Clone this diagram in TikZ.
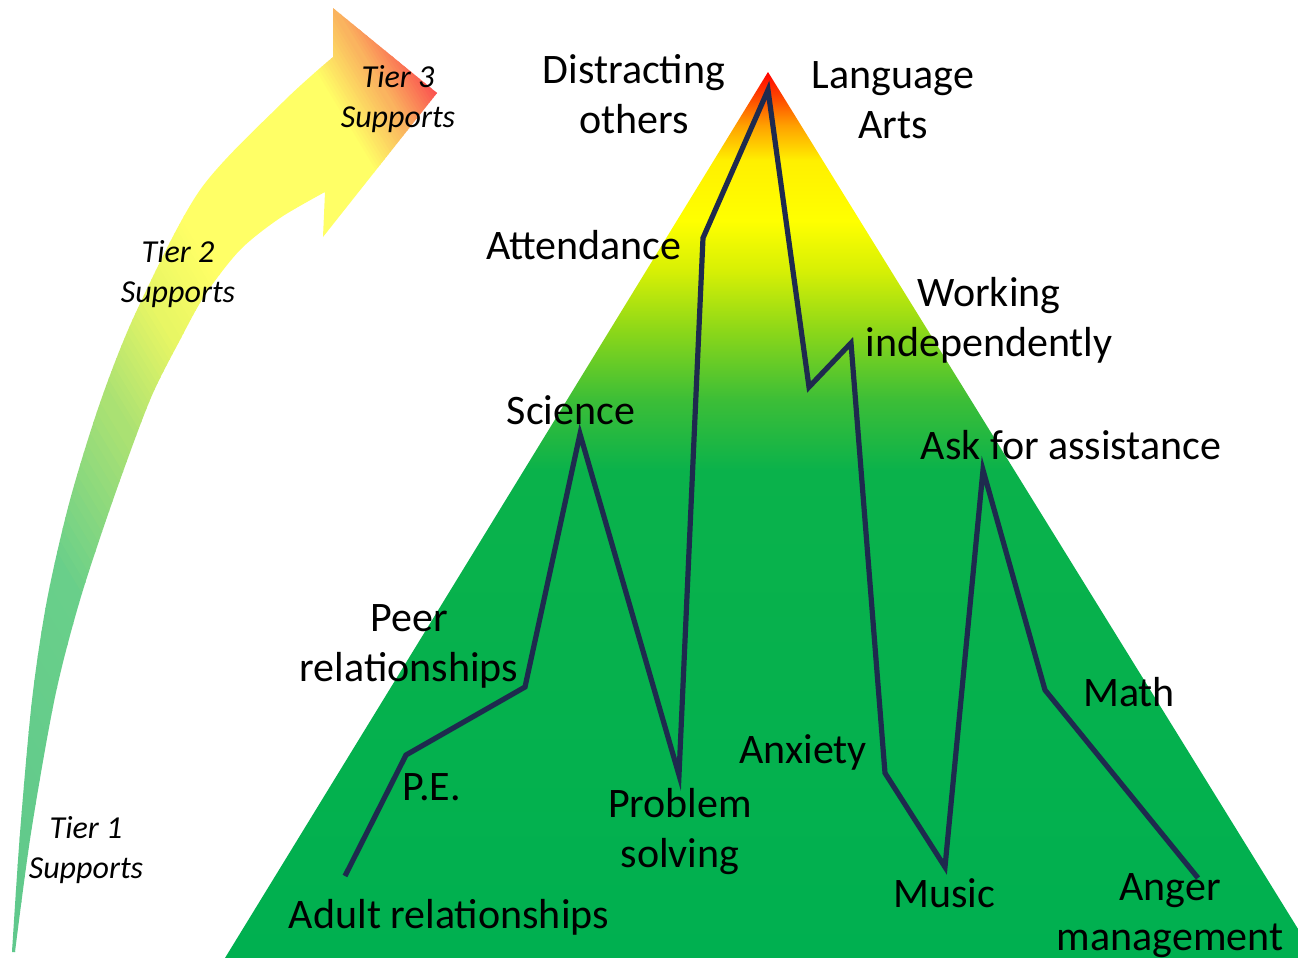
\documentclass[tikz,border=0pt]{standalone}
\usepackage{fontspec}
\setmainfont{Carlito}
\definecolor{pg0}{RGB}{0,176,80}
\definecolor{pg1}{RGB}{10,178,75}
\definecolor{pg2}{RGB}{60,190,55}
\definecolor{pg3}{RGB}{140,215,25}
\definecolor{pg4}{RGB}{215,240,5}
\definecolor{py}{RGB}{255,255,0}
\definecolor{py2}{RGB}{255,240,0}
\definecolor{po}{RGB}{255,160,0}
\definecolor{por}{RGB}{255,80,0}
\definecolor{pr}{RGB}{255,0,0}
\definecolor{ag0}{RGB}{95,200,140}
\definecolor{ag1}{RGB}{105,207,138}
\definecolor{ag2}{RGB}{170,225,115}
\definecolor{ag3}{RGB}{232,246,100}
\definecolor{ay}{RGB}{255,255,102}
\definecolor{ao}{RGB}{250,180,95}
\definecolor{ar}{RGB}{250,85,80}
\definecolor{navy}{RGB}{30,42,78}
\pgfdeclareverticalshading{pyrshade}{100bp}{color(0bp)=(pg0); color(25bp)=(pg0); color(52.5bp)=(pg1); color(56.5bp)=(pg2); color(60.4bp)=(pg3); color(63.8bp)=(pg4); color(66.6bp)=(py); color(70bp)=(py2); color(72bp)=(po); color(73.4bp)=(por); color(75bp)=(pr); color(100bp)=(pr)}
% one band of the arrow gradient, between gradient positions #2 and #3, in colour #1
\newcommand\band[3]{%
  \fill[#1] ({0.857*(#2)+0.514*400},{958-0.514*(#2)+0.857*400})
    -- ({0.857*(#3)+0.514*400},{958-0.514*(#3)+0.857*400})
    -- ({0.857*(#3)-0.514*1100},{958-0.514*(#3)-0.857*1100})
    -- ({0.857*(#2)-0.514*1100},{958-0.514*(#2)-0.857*1100}) -- cycle;}
\newcommand\arrowseg[4]{%
  \foreach \k in {0,...,15}{%
    \pgfmathsetmacro\sa{#3+(#4-#3)*\k/16}%
    \pgfmathsetmacro\sb{#3+(#4-#3)*(\k+1)/16+0.8}%
    \pgfmathtruncatemacro\pc{100-100*\k/15}%
    \band{#1!\pc!#2}{\sa}{\sb}}}
\tikzset{
  lbl/.style={font=\fontsize{21}{25}\selectfont, align=center, inner sep=0pt, text=black},
  tier/.style={font=\fontsize{16}{20}\selectfont\itshape, align=center, inner sep=0pt, text=black},
  pline/.style={draw=navy, line width=2.6pt, line join=miter, line cap=butt}
}
\begin{document}
\begin{tikzpicture}[x=0.5pt, y=-0.5pt]
\useasboundingbox (0,0) rectangle (1298,958);
\clip (0,0) rectangle (1298,958);

% pyramid
\shade[shading=pyrshade] (768,72) -- (1316,958) -- (225,958) -- cycle;

% curved arrow
\begin{scope}
\clip (12,952) -- plot[smooth] coordinates {(12,952) (20,833) (32,700) (47,600) (70,500) (101,400) (137,310) (200,190) (283,102) (333,57)}
  -- (333,8) -- (437,93) -- (323,237) -- (325,192)
  -- plot[smooth] coordinates {(325,192) (280,218) (240,250) (205,295) (180,340) (150,400) (113,500) (80,600) (55,697) (31,833) (15,952)} -- cycle;
  \band{ag0}{-200}{0.5}
  \arrowseg{ag0}{ag1}{0}{250}
  \arrowseg{ag1}{ag2}{250}{380}
  \arrowseg{ag2}{ag3}{380}{470}
  \arrowseg{ag3}{ay}{470}{540}
  \band{ay}{539}{726}
  \arrowseg{ay}{ao}{725}{775}
  \arrowseg{ao}{ar}{775}{820}
  \band{ar}{819}{1000}
\end{scope}

% polyline vertices
\coordinate (pA) at (345,876);
\coordinate (pB) at (406,755);
\coordinate (pC) at (525,687);
\coordinate (pD) at (580,434);
\coordinate (pE) at (679,775);
\coordinate (pF) at (703,238);
\coordinate (pG) at (768,90);
\coordinate (pH) at (809,387);
\coordinate (pI) at (851,343);
\coordinate (pJ) at (885,773);
\coordinate (pK) at (945,867);
\coordinate (pL) at (983,470);
\coordinate (pM) at (1045,690);
\coordinate (pN) at (1198,878);
\draw[pline] (pA) -- (pB) -- (pC) -- (pD) -- (pE) -- (pF) -- (pG) -- (pH) -- (pI) -- (pJ) -- (pK) -- (pL) -- (pM) -- (pN);

% labels
\node[lbl] (distr) at (634,94) {Distracting\\others};
\node[lbl] (lang) at (893,100) {Language\\Arts};
\node[lbl] (att) at (584,245) {Attendance};
\node[lbl] (work) at (989,320) {Working\\independently};
\node[lbl] (sci) at (571,410) {Science};
\node[lbl] (ask) at (1071,445) {Ask for assistance};
\node[lbl] (peer) at (409,646) {Peer\\relationships};
\node[lbl] (pe) at (432,787) {P.E.};
\node[lbl] (prob) at (680,832) {Problem\\solving};
\node[lbl] (anx) at (803,752) {Anxiety};
\node[lbl] (math) at (1129,692) {Math};
\node[lbl] (music) at (944,893) {Music};
\node[lbl] (adult) at (449,917) {Adult relationships};
\node[lbl] (anger) at (1170,916) {Anger\\management};

\node[tier] (t3) at (398,99) {Tier 3\\Supports};
\node[tier] (t2) at (178,274) {Tier 2\\Supports};
\node[tier] (t1) at (86,850) {Tier 1\\Supports};
\end{tikzpicture}
\end{document}
